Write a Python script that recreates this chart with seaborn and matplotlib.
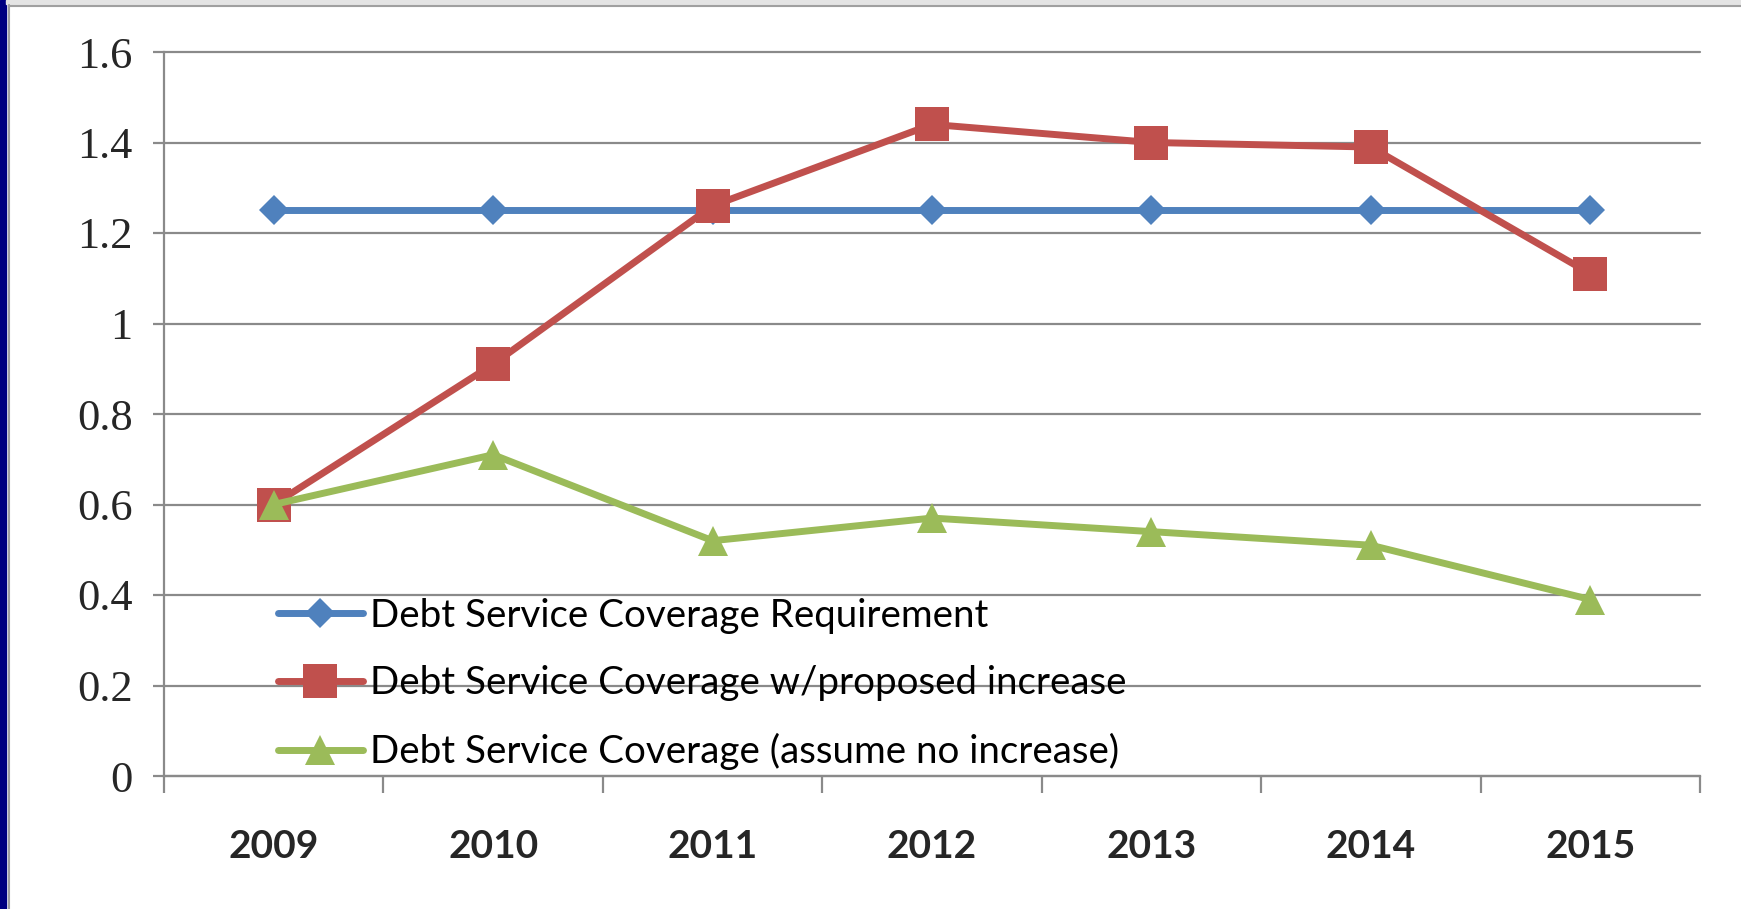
import numpy as np
import pandas as pd
import matplotlib
matplotlib.use("Agg")
import matplotlib.pyplot as plt
from matplotlib.patches import Rectangle
from matplotlib.lines import Line2D
import seaborn as sns

# ---------------- data ----------------
years = ["2009", "2010", "2011", "2012", "2013", "2014", "2015"]
requirement = [1.25, 1.25, 1.25, 1.25, 1.25, 1.25, 1.25]
proposed = [0.60, 0.91, 1.26, 1.44, 1.40, 1.39, 1.11]
no_increase = [0.60, 0.71, 0.52, 0.57, 0.54, 0.51, 0.39]
series_names = [
    "Debt Service Coverage Requirement",
    "Debt Service Coverage w/proposed increase",
    "Debt Service Coverage (assume no increase)",
]
y_ticks = [0, 0.2, 0.4, 0.6, 0.8, 1.0, 1.2, 1.4, 1.6]
y_tick_labels = ["0", "0.2", "0.4", "0.6", "0.8", "1", "1.2", "1.4", "1.6"]

# ---------------- style ----------------
colors = ["#4F81BD", "#C0504D", "#9BBB59"]
markers = ["D", "s", "^"]
msizes = [15, 24, 21]
grid_c = "#8a8a8a"

sns.set_style("white")
plt.rcParams["font.family"] = ["Lato", "DejaVu Sans"]

W, H = 1741, 909
fig = plt.figure(figsize=(W / 100, H / 100), dpi=100)
fig.patch.set_facecolor("white")
ax = fig.add_axes([164 / W, 1 - 776 / H, (1700 - 164) / W, (776 - 52) / H])

df = pd.DataFrame({"year": years * 3,
                   "value": requirement + proposed + no_increase,
                   "series": [series_names[0]] * 7 + [series_names[1]] * 7 + [series_names[2]] * 7})

for name, c, m, ms in zip(series_names, colors, markers, msizes):
    sub = df[df["series"] == name]
    sns.lineplot(data=sub, x="year", y="value", ax=ax, color=c, lw=5,
                 marker=m, markersize=ms, markeredgewidth=0, label=name,
                 sort=False, zorder=3)

ax.set_xlim(-0.5, 6.5)
ax.set_ylim(0, 1.6)
ax.set_xlabel("")
ax.set_ylabel("")

# y axis
ax.set_yticks(y_ticks)
ax.set_yticklabels(y_tick_labels, fontfamily="Liberation Serif", fontsize=32)
ax.yaxis.grid(True, color=grid_c, lw=1.6)
for gl in ax.get_ygridlines():
    gl.set_clip_on(False)
ax.tick_params(axis="y", which="major", direction="out", length=8, width=1.6,
               color=grid_c, pad=14.5, left=True)

# x axis
ax.set_xticks(range(len(years)))
ax.set_xticklabels(years, fontfamily="Lato", fontweight="bold", fontsize=28)
ax.set_xticks(np.arange(-0.5, len(years), 1.0), minor=True)
ax.tick_params(axis="x", which="major", length=0, pad=38)
ax.tick_params(axis="x", which="minor", direction="out", length=12, width=1.6,
               color=grid_c, bottom=True)

for s in ["top", "right"]:
    ax.spines[s].set_visible(False)
for s in ["left", "bottom"]:
    ax.spines[s].set_color(grid_c)
    ax.spines[s].set_linewidth(1.6)
ax.set_axisbelow(True)

leg = ax.legend(loc="center left", bbox_to_anchor=((278 - 164) / 1536, (776 - 684) / 724),
                frameon=False, fontsize=27.7, handlelength=2.2, handletextpad=0.2,
                labelspacing=0.82, borderpad=0, borderaxespad=0, numpoints=1)
for t in leg.get_texts():
    t.set_color("black")

# ---------------- slide border decorations ----------------
fig.patches.append(Rectangle((0, 0), 6 / W, 1, transform=fig.transFigure,
                             color="#000080", zorder=10))
fig.patches.append(Rectangle((6 / W, 1 - 4 / H), 1, 4 / H, transform=fig.transFigure,
                             color="#e4e4e4", zorder=10))
fig.lines.append(Line2D([8.5 / W, 8.5 / W], [0, 1 - 5 / H], transform=fig.transFigure,
                        color="#a0a0a0", lw=1.5, zorder=11))
fig.lines.append(Line2D([8.5 / W, 1], [1 - 6 / H, 1 - 6 / H], transform=fig.transFigure,
                        color="#a0a0a0", lw=1.5, zorder=11))

fig.savefig("out.png", dpi=100)
